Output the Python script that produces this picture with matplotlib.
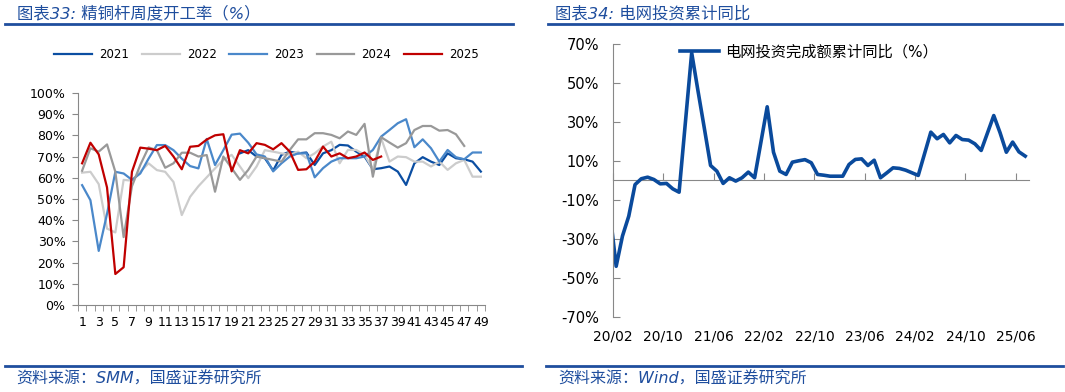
import numpy as np
import matplotlib
matplotlib.use('Agg')
import matplotlib.pyplot as plt
from matplotlib.lines import Line2D

plt.rcParams['font.family'] = ['DejaVu Sans', 'Noto Sans CJK SC']

nan = np.nan

# ---- left chart: weekly operating rate of copper rod (%)
weeks = list(range(1, 50))
week_labels = [str(w) if w % 2 == 1 else '' for w in weeks]

rate_2021 = [nan] * 19 + [71.5, 73, 70, 69.2, 63.4, 70.8, 72.3, 71.5, 71.9, 66,
                          71.5, 73, 75.5, 75.2, 72.3, 70, 64, 64.5, 65.3, 62.9,
                          56.6, 66.8, 69.7, 67.6, 66, 71.5, 69.2, 68.7, 67.6, 62.9]
rate_2022 = [62.4, 62.8, 57, 36, 34.2, 59, 58.6, 62.8, 66.8, 63.6,
             62.8, 58, 42.4, 51, 56, 60.2, 64.4, 68.4, 70.8, 65.3,
             59.8, 65.3, 73, 72.3, 71.5, 70.8, 72.3, 69.2, 71.5, 74.7,
             77, 66.8, 73.1, 73.1, 70.8, 64, 78.6, 67.6, 70, 69.7,
             67.6, 67.6, 65.3, 67.6, 63.7, 66.8, 68.4, 60.5, 60.5]
rate_2023 = [56.5, 49.4, 25.5, 43, 62.8, 62, 59, 62, 69, 75.4,
             75.4, 73, 69, 65.5, 64.4, 78.3, 66, 73, 80.3, 80.8,
             76.5, 71, 70, 63, 66.8, 70, 71.5, 71.5, 60.2, 64.5,
             67.6, 69.2, 69.2, 69.2, 70, 73.1, 79.4, 82.5, 85.7, 87.6,
             74.4, 78.1, 73.9, 67.6, 73.1, 69.7, 68.7, 71.9, 71.9]
rate_2024 = [63.3, 73.9, 72.3, 75.7, 62.8, 32, 56, 66, 74.3, 73,
             64.7, 66.8, 71.8, 71.8, 70, 70.7, 53.4, 70, 64.5, 59,
             63.7, 70, 69.2, 68.4, 67.6, 73.1, 78.1, 78.1, 81, 81,
             80.2, 78.6, 81.8, 80.2, 85.4, 60.5, 79.1, 76.6, 74.2, 76.3,
             82.5, 84.4, 84.4, 82.2, 82.5, 80.5, 75, nan, nan]
rate_2025 = [66.8, 76.5, 71, 55.4, 14.6, 17.8, 62.8, 74.2, 73.7, 73,
             75, 70, 64, 74.6, 75, 78, 80, 80.5, 63, 73,
             71.5, 76.3, 75.5, 73.4, 76.3, 72.3, 63.7, 64, 67.6, 74.7,
             70, 71.5, 69.2, 70, 71.9, 68.4, 70] + [nan] * 12

series_names = ['2021', '2022', '2023', '2024', '2025']
series_colors = ['#0B4EA2', '#CCCCCC', '#4A88CA', '#999999', '#C00000']

# ---- right chart: grid investment, cumulative yoy (%)
grid_months = ['2020-01', '2020-02', '2020-03', '2020-04', '2020-05', '2020-06', '2020-07',
               '2020-08', '2020-09', '2020-10', '2020-11', '2020-12',
               '2021-02', '2021-03', '2021-04', '2021-05', '2021-06', '2021-07',
               '2021-08', '2021-09', '2021-10', '2021-11', '2021-12',
               '2022-02', '2022-03', '2022-04', '2022-05', '2022-06', '2022-07',
               '2022-08', '2022-09', '2022-10', '2022-11', '2022-12',
               '2023-02', '2023-03', '2023-04', '2023-05', '2023-06', '2023-07',
               '2023-08', '2023-09', '2023-10', '2023-11', '2023-12',
               '2024-02', '2024-03', '2024-04', '2024-05', '2024-06', '2024-07',
               '2024-08', '2024-09', '2024-10', '2024-11', '2024-12',
               '2025-02', '2025-03', '2025-04', '2025-05', '2025-06', '2025-07']
grid_yoy = [-16, -44, -28.5, -18.3, -2.1, 0.9, 1.7, 0.5, -1.7, -1.5, -4.3, -6.0,
            65.5, 46, 27, 7.7, 4.8, -1.5, 1.4, -0.3, 1.4, 4.3, 1.4,
            37.8, 14.5, 4.8, 3.1, 9.4, 10.1, 10.7, 9.1, 3.1, 2.7, 2.2,
            2.2, 8.2, 10.8, 11.1, 7.7, 10.4, 1.4, 3.9, 6.5, 6.2, 5.3,
            2.6, 13.7, 24.8, 21.4, 23.6, 19.3, 23.1, 21.0, 20.7, 18.8, 15.4,
            33.3, 24.5, 14.5, 19.7, 14.7, 12.5]
grid_ticks = ['20/02', '20/10', '21/06', '22/02', '22/10', '23/06', '24/02', '24/10', '25/06']
grid_name = '电网投资完成额累计同比（%）'


def month_pos(s, mid=0.5):
    y, m = s.split('-')
    return (int(y) - 2020) * 12 + int(m) - 2 + mid


title_blue = '#1F4E9E'
axis_gray = '#888888'

fig = plt.figure(figsize=(10.65, 3.92), dpi=100)

# ---------------- left
ax1 = fig.add_axes([0.0732, 0.222, 0.3822, 0.541])
all_rates = [rate_2021, rate_2022, rate_2023, rate_2024, rate_2025]
for name, vals, col in zip(series_names, all_rates, series_colors):
    ax1.plot(weeks, vals, color=col, lw=1.6, label=name)

ax1.set_xlim(0.5, 49.5)
ax1.set_ylim(0, 100)
ax1.set_yticks(range(0, 101, 10))
ax1.set_yticklabels([f'{v}%' for v in range(0, 101, 10)])
ax1.set_xticks(weeks)
ax1.set_xticklabels(week_labels)
ax1.set_xticks([w + 0.5 for w in range(0, 50)], minor=True)
ax1.tick_params(axis='x', which='major', length=0, pad=8, labelsize=9)
ax1.tick_params(axis='x', which='minor', length=4, color=axis_gray, direction='out')
ax1.tick_params(axis='y', length=4, color=axis_gray, pad=5, labelsize=9)
for s in ['top', 'right']:
    ax1.spines[s].set_visible(False)
for s in ['left', 'bottom']:
    ax1.spines[s].set_color(axis_gray)

ax1.legend(loc='center left', bbox_to_anchor=(0.0455, 0.86), bbox_transform=fig.transFigure,
           ncol=5, frameon=False, fontsize=8.5, borderpad=0, handlelength=3.2,
           handletextpad=0.6, columnspacing=1.08)

# ---------------- right
ax2 = fig.add_axes([0.5756, 0.1913, 0.3906, 0.6965])
xpos = [month_pos(m) for m in grid_months]
ax2.plot(xpos, grid_yoy, color='#0A4A9C', lw=2.6, label=grid_name, solid_joinstyle='round')
tick_pos = [month_pos('20' + t.replace('/', '-'), mid=0) for t in grid_ticks]
ax2.set_xlim(0, 66.1)
ax2.set_ylim(-70, 70)
ax2.set_yticks(range(-70, 71, 20))
ax2.set_yticklabels([f'{v}%' for v in range(-70, 71, 20)])
ax2.set_xticks(tick_pos)
ax2.set_xticklabels(grid_ticks)
ax2.tick_params(axis='x', length=0, pad=9, labelsize=10)
ax2.tick_params(axis='y', direction='in', length=5, color=axis_gray, pad=10, labelsize=10.5)
for s in ['top', 'right', 'bottom']:
    ax2.spines[s].set_visible(False)
ax2.spines['left'].set_color(axis_gray)

zero_ax = ax2.secondary_xaxis(0, transform=ax2.transData)
zero_ax.set_xticks(tick_pos)
zero_ax.tick_params(direction='in', length=5, color=axis_gray, labelbottom=False)
zero_ax.spines['bottom'].set_color(axis_gray)

ax2.legend(loc='center left', bbox_to_anchor=(0.142, 0.971), frameon=False, fontsize=11,
           borderpad=0, handlelength=2.6, handletextpad=0.35)

# ---------------- titles and sources
fig.text(0.016, 0.965, '图表33: 精铜杆周度开工率（%）', color=title_blue, fontsize=11.8,
         style='italic', va='center', ha='left')
fig.text(0.521, 0.965, '图表34: 电网投资累计同比', color=title_blue, fontsize=11.8,
         style='italic', va='center', ha='left')
fig.text(0.015, 0.033, '资料来源：SMM，国盛证券研究所', color=title_blue, fontsize=11.5,
         style='italic', va='center', ha='left')
fig.text(0.524, 0.033, '资料来源：Wind，国盛证券研究所', color=title_blue, fontsize=11.5,
         style='italic', va='center', ha='left')

for x0, x1, y in [(5, 513, 24), (548, 1062, 24), (5, 522, 366), (546, 1063, 366)]:
    fig.add_artist(Line2D([x0 / 1065, x1 / 1065], [1 - y / 392, 1 - y / 392],
                          transform=fig.transFigure, color=title_blue, lw=2))

fig.savefig('out.png', dpi=100)
